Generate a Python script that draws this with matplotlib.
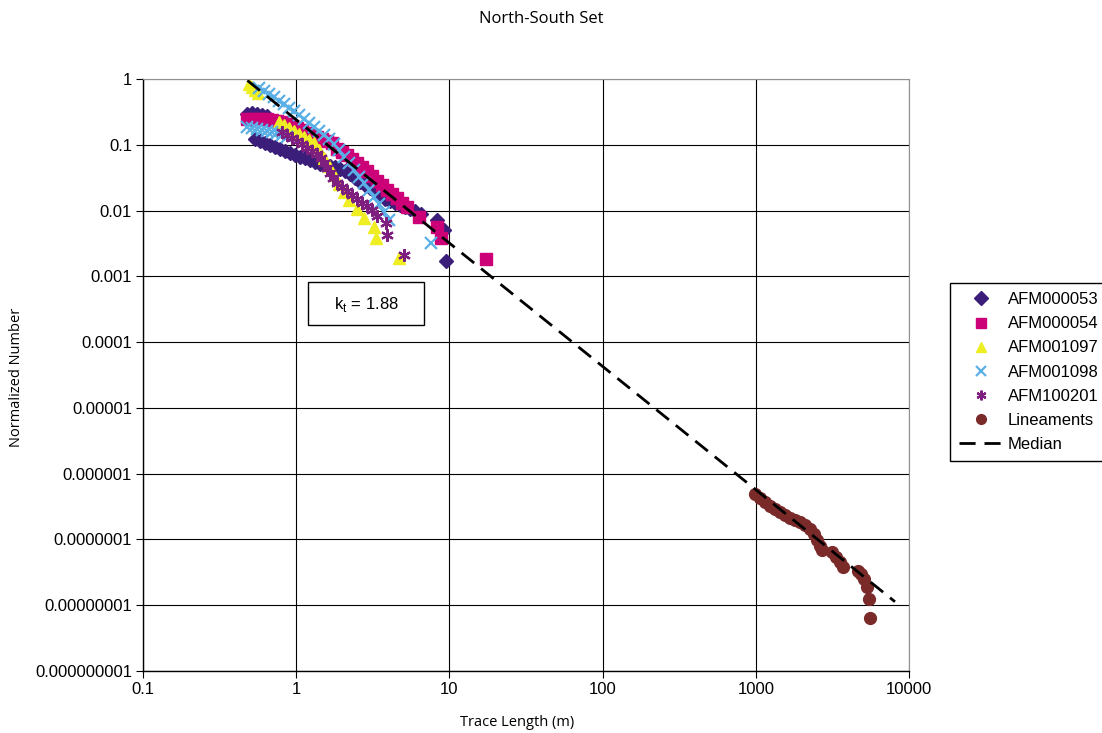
import matplotlib
matplotlib.use('Agg')
import matplotlib.pyplot as plt
from matplotlib.patches import Rectangle

# AFM000053 (diamonds)
afm53_x = [0.478, 0.516, 0.556, 0.599, 0.646,
           0.540, 0.582, 0.627, 0.676, 0.729, 0.786, 0.847, 0.914, 0.985, 1.062, 1.145, 1.235,
           1.331, 1.435, 1.547, 1.668, 1.798, 1.939, 2.090, 2.254, 2.430, 2.620, 2.825, 3.045,
           3.283, 3.540, 3.817, 4.115, 4.437, 4.783, 5.157, 5.560, 5.995, 6.561, 8.35, 9.28, 9.56]
afm53_y = [0.294, 0.304, 0.294, 0.284, 0.274,
           0.122, 0.114, 0.1065, 0.0993, 0.0926, 0.0863, 0.0805, 0.0751, 0.070, 0.0653, 0.0630, 0.0587,
           0.0548, 0.0511, 0.0493, 0.0476, 0.046, 0.0429, 0.040, 0.036, 0.0313, 0.0272, 0.0245, 0.0221,
           0.0192, 0.0173, 0.0150, 0.0140, 0.0130, 0.0122, 0.01134, 0.01057, 0.00986, 0.00888, 0.0072, 0.00507, 0.00171]

# AFM000054 (squares)
afm54_x = [0.478, 0.516, 0.556, 0.599, 0.646, 0.697, 0.751, 0.810, 0.873, 0.942, 1.015, 1.094,
           1.180, 1.272, 1.372, 1.479, 1.594, 1.719, 1.854, 1.999, 2.154, 2.323, 2.505, 2.701,
           2.911, 3.139, 3.384, 3.649, 3.934, 4.241, 4.573, 4.930, 5.315, 6.368, 8.35, 8.87, 17.45]
afm54_y = [0.247, 0.247, 0.247, 0.247, 0.247, 0.238, 0.230, 0.222, 0.207, 0.193, 0.180, 0.168,
           0.151, 0.141, 0.131, 0.122, 0.114, 0.1065, 0.0863, 0.0777, 0.070, 0.0608, 0.0529, 0.046,
           0.040, 0.0336, 0.0282, 0.0245, 0.0206, 0.0179, 0.0155, 0.0130, 0.01134, 0.0080, 0.00563, 0.00383, 0.00184]

# AFM001097 (triangles)
afm1097_x = [0.493, 0.516, 0.540, 0.565,
             0.774, 0.835, 0.900, 0.970, 1.046, 1.128, 1.216, 1.311, 1.413, 1.524, 1.643, 1.771,
             1.910, 2.059, 2.220, 2.505, 2.782, 3.234, 3.334, 4.713]
afm1097_y = [0.839, 0.756, 0.681, 0.613,
             0.222, 0.200, 0.180, 0.162, 0.146, 0.131, 0.118, 0.1065, 0.0834, 0.0630, 0.0476, 0.0348,
             0.0254, 0.0192, 0.0145, 0.01057, 0.00772, 0.00563, 0.00383, 0.0019]

# AFM001098 (crosses)
afm1098_x = [0.573, 0.618, 0.666, 0.718, 0.774, 0.835, 0.900, 0.970, 1.046, 1.128, 1.216, 1.311,
             1.413, 1.524, 1.643, 1.771, 1.910, 2.059, 2.220, 2.393, 2.580, 2.782, 3.000, 3.234,
             3.487, 3.760, 4.054, 7.6,
             0.478, 0.516, 0.556, 0.599, 0.646, 0.697, 0.751, 0.810, 0.873]
afm1098_y = [0.730, 0.657, 0.592, 0.533, 0.463, 0.417, 0.362, 0.326, 0.284, 0.247, 0.214, 0.186,
             0.162, 0.141, 0.122, 0.103, 0.0834, 0.0653, 0.0529, 0.0414, 0.0324, 0.0263, 0.0206, 0.0161,
             0.0126, 0.00952, 0.0072, 0.0032,
             0.186, 0.180, 0.174, 0.168, 0.162, 0.156, 0.151, 0.141, 0.131]

# AFM100201 (asterisks)
afm100201_x = [0.810, 0.873, 0.942, 1.015, 1.094, 1.180, 1.272, 1.372, 1.457, 1.524, 1.594, 1.668,
               1.745, 1.854, 1.999, 2.154, 2.323, 2.505, 2.701, 2.911, 3.139, 3.384, 3.876, 3.934, 5.081]
afm100201_y = [0.156, 0.141, 0.127, 0.114, 0.103, 0.0894, 0.0805, 0.0725, 0.0630, 0.0529, 0.0444, 0.0373,
               0.0313, 0.0263, 0.0228, 0.0199, 0.0173, 0.0150, 0.0130, 0.0117, 0.0102, 0.00828, 0.00648, 0.00426, 0.00211]

# Lineaments (circles)
lin_x = [985, 1062, 1145, 1235, 1331, 1435, 1548, 1668, 1798, 1940, 2090, 2255, 2395, 2505, 2620, 2700,
         3140, 3335, 3540, 3705, 4645, 4855, 5080, 5310, 5480, 5560]
lin_y = [4.9e-7, 4.3e-7, 3.7e-7, 3.2e-7, 2.9e-7, 2.6e-7, 2.37e-7, 2.13e-7, 1.99e-7, 1.85e-7, 1.67e-7,
         1.45e-7, 1.22e-7, 9.9e-8, 8.0e-8, 7.0e-8,
         6.5e-8, 5.4e-8, 4.6e-8, 3.8e-8, 3.33e-8, 3.0e-8, 2.52e-8, 1.9e-8, 1.25e-8, 6.4e-9]

# Median power law
median_x = [0.48, 8100]
median_y = [0.95, 1.13e-8]

x_ticks = [0.1, 1, 10, 100, 1000, 10000]
x_tick_labels = ['0.1', '1', '10', '100', '1000', '10000']
y_ticks = [1e-9, 1e-8, 1e-7, 1e-6, 1e-5, 1e-4, 1e-3, 1e-2, 1e-1, 1]
y_tick_labels = ['0.000000001', '0.00000001', '0.0000001', '0.000001', '0.00001',
                 '0.0001', '0.001', '0.01', '0.1', '1']

fig = plt.figure(figsize=(11.02, 7.33), dpi=100)
ax = fig.add_axes([143 / 1102, 62 / 733, 766 / 1102, 592 / 733])

ax.plot(afm53_x, afm53_y, ls='none', marker='D', ms=7, color='#3b1d7a', mec='#3b1d7a', label='AFM000053')
ax.plot(afm54_x, afm54_y, ls='none', marker='s', ms=8, color='#cc0077', mec='#cc0077', label='AFM000054')
ax.plot(afm1097_x, afm1097_y, ls='none', marker='^', ms=9, color='#eeee22', mec='#eeee22', label='AFM001097')
ax.plot(afm1098_x, afm1098_y, ls='none', marker='x', ms=9, mew=1.6, color='#5ab0e6', label='AFM001098')
ax.plot(afm100201_x, afm100201_y, ls='none', marker=(6, 2, 0), ms=9, mew=1.6, color='#7e1e7e', label='AFM100201')
ax.plot(lin_x, lin_y, ls='none', marker='o', ms=8.5, color='#7b2a2a', mec='#7b2a2a', label='Lineaments')
ax.plot(median_x, median_y, color='black', lw=2.0, dashes=(5.8, 3.2), label='Median')

ax.set_xscale('log')
ax.set_yscale('log')
ax.set_xlim(0.1, 10000)
ax.set_ylim(1e-9, 1)
ax.set_xticks(x_ticks)
ax.set_xticklabels(x_tick_labels)
ax.set_yticks(y_ticks)
ax.set_yticklabels(y_tick_labels)
ax.minorticks_off()
ax.tick_params(direction='out', length=5, width=0.8, labelsize=12, pad=3)
for lab in ax.get_xticklabels() + ax.get_yticklabels():
    lab.set_fontfamily('Liberation Sans')

ax.grid(True, color='black', lw=0.8)
ax.set_axisbelow(True)
ax.spines['top'].set_color('#909090')
ax.spines['right'].set_color('#909090')
ax.spines['left'].set_linewidth(1.0)
ax.spines['bottom'].set_linewidth(1.0)

# k_t annotation box
ax.add_patch(Rectangle((165 / 766, 346 / 592), 116 / 766, 43 / 592, transform=ax.transAxes,
                       facecolor='white', edgecolor='black', lw=1.0, zorder=5))
ax.text(223 / 766, 366 / 592, r'k$_\mathregular{t}$ = 1.88', transform=ax.transAxes,
        ha='center', va='center', fontsize=12, family='Liberation Sans', zorder=6)

leg = ax.legend(loc='upper left', bbox_to_anchor=(950 / 1102, 1 - 283 / 733), bbox_transform=fig.transFigure,
                borderaxespad=0, frameon=True, fancybox=False, framealpha=1, edgecolor='black',
                prop={'family': 'Liberation Sans', 'size': 12}, borderpad=0.55, handlelength=2.6,
                handletextpad=0.3, labelspacing=0.55)
leg.get_frame().set_linewidth(1.0)
for h in leg.legend_handles[:6]:
    h.set_markersize(7)

fig.text(541 / 1102, 1 - 19 / 733, 'North-South Set', ha='center', va='center', fontsize=12, family='Open Sans')
fig.text(517 / 1102, 1 - 722 / 733, 'Trace Length (m)', ha='center', va='center', fontsize=10.5, family='Open Sans')
fig.text(17 / 1102, 1 - 377 / 733, 'Normalized Number', ha='center', va='center', rotation=90,
         fontsize=10.5, family='Open Sans')

fig.savefig('out.png', dpi=100)
